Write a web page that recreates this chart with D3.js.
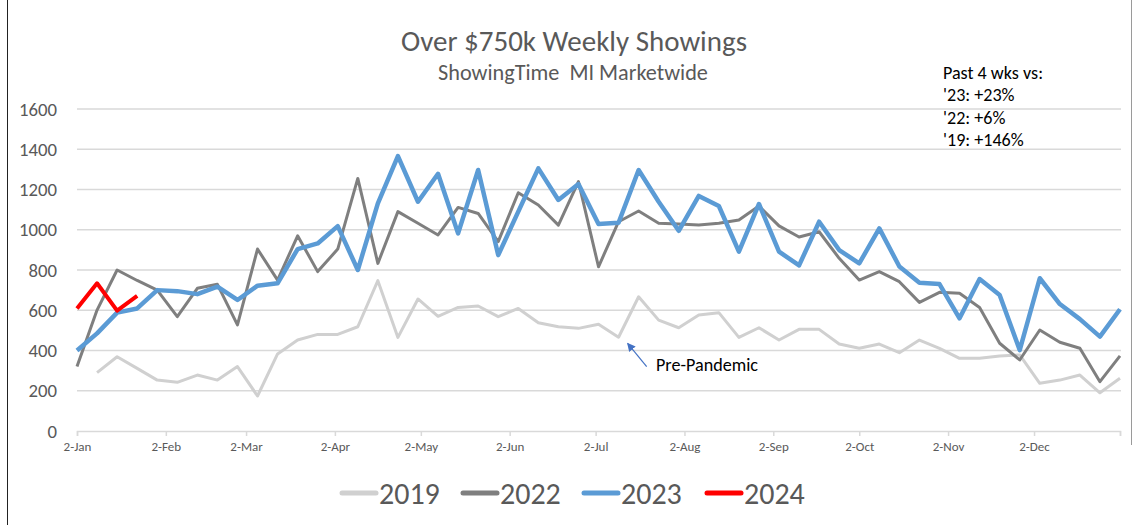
<!DOCTYPE html>
<html>
<head>
<meta charset="utf-8">
<script src="https://cdn.jsdelivr.net/npm/d3@7"></script>
<style>
  body { margin: 0; background: #fff; }
  svg { display: block; font-family: Carlito, Lato, "Open Sans", sans-serif; }
</style>
</head>
<body>
<div id="chart"></div>
<script>
const w = 1134;
const h = 525;

// week starting dates (2023 calendar used for all years)
const firstWeek = new Date(2023, 0, 2);
const weekCount = 53;

const series2019 = [null, 290, 369, 311, 253, 242, 278, 253, 320, 174, 383, 452, 480, 480, 518, 747, 465, 656, 570, 614,
    621, 568, 609, 538, 518, 510, 530, 466, 667, 551, 513, 576, 588, 465, 513, 452, 505, 505, 432, 411,
    432, 389, 452, 411, 361, 361, 373, 378, 237, 253, 278, 190, 262];
const series2022 = [320, 601, 800, 748, 700, 568, 709, 729, 527, 904, 750, 970, 792, 904, 1255, 833, 1090, 1032, 974, 1111,
    1081, 941, 1184, 1123, 1023, 1239, 816, 1040, 1093, 1032, 1028, 1024, 1032, 1048, 1118, 1019, 964, 990, 858, 750,
    792, 742, 639, 689, 684, 614, 436, 353, 502, 441, 411, 245, 373];
const series2023 = [400, 485, 588, 609, 700, 695, 680, 717, 651, 722, 734, 904, 932, 1018, 800, 1131, 1366, 1139, 1278, 982,
    1297, 874, 1090, 1305, 1148, 1227, 1028, 1035, 1297, 1139, 995, 1168, 1118, 891, 1128, 891, 823, 1040, 899, 833,
    1007, 817, 737, 730, 560, 755, 676, 402, 759, 631, 556, 469, 605];
const series2024 = [609, 734, 598, 671];

const yTicks = [0, 200, 400, 600, 800, 1000, 1200, 1400, 1600];
const notes = ["Past 4 wks vs:", "'23: +23%", "'22: +6%", "'19: +146%"];

const weeks = d3.range(weekCount).map(i => d3.timeDay.offset(firstWeek, i * 7));

const seriesList = [
    {name: "2019", values: series2019, color: "#d0d0d0", width: 3},
    {name: "2022", values: series2022, color: "#7f7f7f", width: 3},
    {name: "2023", values: series2023, color: "#5b9bd5", width: 4.5},
    {name: "2024", values: series2024, color: "#ff0000", width: 4}
];

// scale a text selection's font so its first node gets the wanted width
function fitWidth(sel, target) {
    const base = parseFloat(sel.style("font-size"));
    const len = sel.node().getComputedTextLength();
    sel.style("font-size", (base * target / len).toFixed(2) + "px");
}

const svg = d3.select("#chart").append("svg")
    .attr("width", w)
    .attr("height", h);

// frame
svg.append("line").attr("x1", 7.5).attr("x2", 7.5).attr("y1", 0).attr("y2", h)
    .attr("stroke", "#222").attr("stroke-width", 1);
svg.append("line").attr("x1", 1131.5).attr("x2", 1131.5).attr("y1", 0).attr("y2", 445)
    .attr("stroke", "#9a9a9a").attr("stroke-width", 1);

const x = d3.scaleTime()
    .domain([firstWeek, new Date(2024, 0, 1)])
    .range([77, 1120]);
const y = d3.scaleLinear().domain([0, 1600]).range([431, 109]);

// gridlines
svg.append("g")
    .selectAll("line")
    .data(yTicks.slice(1))
    .join("line")
    .attr("x1", 77).attr("x2", 1121)
    .attr("y1", d => y(d)).attr("y2", d => y(d))
    .attr("stroke", "#d9d9d9").attr("stroke-width", 1.5);

// y labels
const yLabels = svg.append("g")
    .selectAll("text")
    .data(yTicks.slice().reverse())
    .join("text")
    .attr("x", 57).attr("y", d => y(d))
    .attr("dy", "0.35em")
    .attr("text-anchor", "end")
    .attr("fill", "#595959")
    .style("font-size", "16px")
    .text(d => d);
fitWidth(yLabels, 38);

// x axis
const monthTicks = d3.range(12).map(m => new Date(2023, m, 2)).concat([new Date(2024, 0, 1)]);
const xAxis = svg.append("g")
    .attr("transform", "translate(0,431)")
    .call(d3.axisBottom(x).tickValues(monthTicks).tickSize(5).tickPadding(6)
        .tickFormat(d => d.getFullYear() === 2024 ? "" : d3.timeFormat("%-d-%b")(d)));
xAxis.select(".domain").attr("stroke", "#d9d9d9").attr("stroke-width", 1.5);
xAxis.selectAll(".tick line").attr("stroke", "#d9d9d9").attr("stroke-width", 1.5);
xAxis.selectAll(".tick text").attr("fill", "#595959").style("font-size", "13px")
    .style("font-family", "Carlito, Lato, 'Open Sans', sans-serif");

// lines
const line = d3.line()
    .defined(d => d.v !== null)
    .x(d => x(d.date))
    .y(d => y(d.v));

svg.append("g")
    .selectAll("path")
    .data(seriesList)
    .join("path")
    .attr("fill", "none")
    .attr("stroke", d => d.color)
    .attr("stroke-width", d => d.width)
    .attr("stroke-linejoin", "round")
    .attr("d", d => line(d.values.map((v, i) => ({date: weeks[i], v: v}))));

// title
const title = svg.append("text")
    .attr("x", 574).attr("y", 51)
    .attr("text-anchor", "middle")
    .attr("fill", "#595959")
    .style("font-size", "24px")
    .text("Over $750k Weekly Showings");
fitWidth(title, 346);
const subtitle = svg.append("text")
    .attr("x", 573).attr("y", 80)
    .attr("text-anchor", "middle")
    .attr("fill", "#595959")
    .style("font-size", "18px")
    .style("white-space", "pre")
    .text("ShowingTime  MI Marketwide");
fitWidth(subtitle, 270);

// comparison notes
const noteText = svg.append("g")
    .selectAll("text")
    .data(notes)
    .join("text")
    .attr("x", 943)
    .attr("y", (d, i) => 79 + i * 22.3)
    .attr("fill", "#000")
    .style("font-size", "14px")
    .text(d => d);
fitWidth(noteText, 100);

// pre-pandemic annotation
svg.append("defs").append("marker")
    .attr("id", "arrow")
    .attr("viewBox", "0 0 10 10")
    .attr("refX", 9).attr("refY", 5)
    .attr("markerWidth", 7).attr("markerHeight", 7)
    .attr("orient", "auto")
    .append("path")
    .attr("d", "M0,0 L10,5 L0,10 z")
    .attr("fill", "#4472c4");

svg.append("line")
    .attr("x1", x(weeks[29]) - 12).attr("y1", y(320))
    .attr("x2", x(weeks[28]) - 11).attr("y2", y(435))
    .attr("stroke", "#4472c4").attr("stroke-width", 1.2)
    .attr("marker-end", "url(#arrow)");
const pre = svg.append("text")
    .attr("x", 656).attr("y", 371)
    .attr("fill", "#000")
    .style("font-size", "14px")
    .text("Pre-Pandemic");
fitWidth(pre, 102);

// legend
const legendX = [342, 463, 584, 707];
const legend = svg.append("g")
    .selectAll("g")
    .data(seriesList)
    .join("g")
    .attr("transform", (d, i) => "translate(" + legendX[i] + ",493)");
legend.append("line")
    .attr("x1", 0).attr("x2", 34)
    .attr("stroke", d => d.color)
    .attr("stroke-width", 5)
    .attr("stroke-linecap", "round");
legend.append("text")
    .attr("x", 37).attr("y", 0)
    .attr("dy", "0.35em")
    .attr("fill", "#595959")
    .style("font-size", "30px")
    .text(d => d.name);
</script>
</body>
</html>
